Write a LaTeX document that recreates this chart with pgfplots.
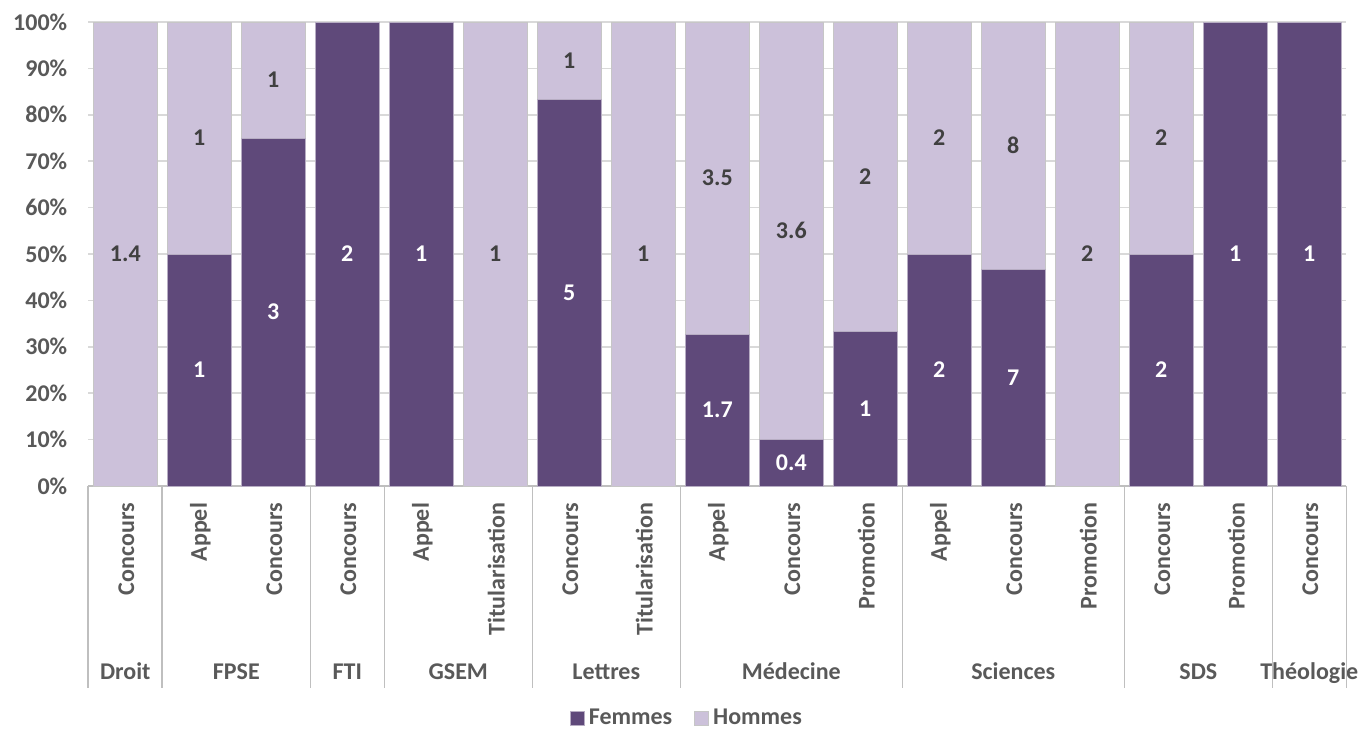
\documentclass[border=0pt]{standalone}
\usepackage{fontspec}
\setmainfont{Carlito}
\usepackage{pgfplots}
\usepackage{pgfplotstable}
\pgfplotsset{compat=1.18}

\definecolor{femmes}{HTML}{5F497A}
\definecolor{hommes}{HTML}{CCC1DA}
\definecolor{ticktext}{HTML}{595959}
\definecolor{labtext}{HTML}{404040}
\definecolor{gridc}{HTML}{D9D9D9}
\definecolor{sepc}{HTML}{BFBFBF}
\newcommand\cf{\fontsize{12}{14.4}\selectfont\bfseries}

% f, h = share in %, fl, hl = counts shown in the bars
\pgfplotstableread{
x f h fl hl
1 0 100 {} 1.4
2 50 50 1 1
3 75 25 3 1
4 100 0 2 {}
5 100 0 1 {}
6 0 100 {} 1
7 83.33 16.67 5 1
8 0 100 {} 1
9 32.69 67.31 1.7 3.5
10 10 90 0.4 3.6
11 33.33 66.67 1 2
12 50 50 2 2
13 46.67 53.33 7 8
14 0 100 {} 2
15 50 50 2 2
16 100 0 1 {}
17 100 0 1 {}
}\data

\begin{document}
\begin{tikzpicture}[font=\cf,
  mysep/.style={sepc, line width=0.8pt},
  grp/.style={anchor=base, text=ticktext, font=\cf}]
\useasboundingbox (-44.15pt,-121.5pt) rectangle (635.85pt,243pt);
\begin{axis}[
  scale only axis, width=629pt, height=232pt,
  ybar stacked, bar width=32pt,
  xmin=0.5, xmax=17.5, ymin=0, ymax=100,
  enlargelimits=false, clip=false,
  axis line style={draw=none},
  major tick length=0pt,
  ymajorgrids, grid style={gridc, line width=0.8pt},
  ytick={0,10,...,100},
  yticklabels={0\%,10\%,20\%,30\%,40\%,50\%,60\%,70\%,80\%,90\%,100\%},
  yticklabel style={font=\cf, text=ticktext, xshift=-7pt},
  xtick={1,...,17},
  xticklabels={Concours,Appel,Concours,Concours,Appel,Titularisation,Concours,Titularisation,Appel,Concours,Promotion,Appel,Concours,Promotion,Concours,Promotion,Concours},
  xticklabel style={font=\cf, text=ticktext, rotate=90, anchor=east, xshift=-5pt, yshift=-0.5pt},
  legend style={at={(0.4767,-0.501)}, anchor=center, draw=none, fill=none, font=\cf, text=ticktext,
    inner sep=0pt, legend columns=2, /tikz/every even column/.append style={column sep=9pt}},
  legend image code/.code={\fill[#1] (0pt,-3.5pt) rectangle (7pt,3.5pt);},
]
\addplot[fill=femmes, draw=white!55!femmes, line width=0.4pt]
  table[x=x, y=f] {\data};
\addplot[fill=hommes, draw=white!55!gray, line width=0.4pt]
  table[x=x, y=h] {\data};
\legend{Femmes,Hommes}

\draw[mysep] (axis cs:0.5,0) -- (axis cs:17.5,0);
\draw[mysep] (axis cs:0.5,0) -- ([yshift=-101pt]axis cs:0.5,0);
\draw[mysep] (axis cs:1.5,0) -- ([yshift=-101pt]axis cs:1.5,0);
\draw[mysep] (axis cs:3.5,0) -- ([yshift=-101pt]axis cs:3.5,0);
\draw[mysep] (axis cs:4.5,0) -- ([yshift=-101pt]axis cs:4.5,0);
\draw[mysep] (axis cs:6.5,0) -- ([yshift=-101pt]axis cs:6.5,0);
\draw[mysep] (axis cs:8.5,0) -- ([yshift=-101pt]axis cs:8.5,0);
\draw[mysep] (axis cs:11.5,0) -- ([yshift=-101pt]axis cs:11.5,0);
\draw[mysep] (axis cs:14.5,0) -- ([yshift=-101pt]axis cs:14.5,0);
\draw[mysep] (axis cs:16.5,0) -- ([yshift=-101pt]axis cs:16.5,0);
\draw[mysep] (axis cs:17.5,0) -- ([yshift=-101pt]axis cs:17.5,0);
\node[grp] at ([yshift=-96.5pt]axis cs:1,0) {Droit};
\node[grp] at ([yshift=-96.5pt]axis cs:2.5,0) {FPSE};
\node[grp] at ([yshift=-96.5pt]axis cs:4,0) {FTI};
\node[grp] at ([yshift=-96.5pt]axis cs:5.5,0) {GSEM};
\node[grp] at ([yshift=-96.5pt]axis cs:7.5,0) {Lettres};
\node[grp] at ([yshift=-96.5pt]axis cs:10,0) {Médecine};
\node[grp] at ([yshift=-96.5pt]axis cs:13,0) {Sciences};
\node[grp] at ([yshift=-96.5pt]axis cs:15.5,0) {SDS};
\node[grp] at ([yshift=-96.5pt]axis cs:17,0) {Théologie};
\end{axis}

% value labels, centred in each segment
\begin{axis}[
  scale only axis, width=629pt, height=232pt,
  xmin=0.5, xmax=17.5, ymin=0, ymax=100,
  enlargelimits=false, clip=false, hide axis,
  nodes near coords, point meta=explicit symbolic,
  nodes near coords align={center},
]
\addplot[draw=none, mark=none, nodes near coords style={font=\cf, text=white, anchor=center}]
  table[x=x, y expr=\thisrow{f}/2, meta=fl] {\data};
\addplot[draw=none, mark=none, nodes near coords style={font=\cf, text=labtext, anchor=center}]
  table[x=x, y expr=\thisrow{f}+\thisrow{h}/2, meta=hl] {\data};
\end{axis}
\end{tikzpicture}
\end{document}
